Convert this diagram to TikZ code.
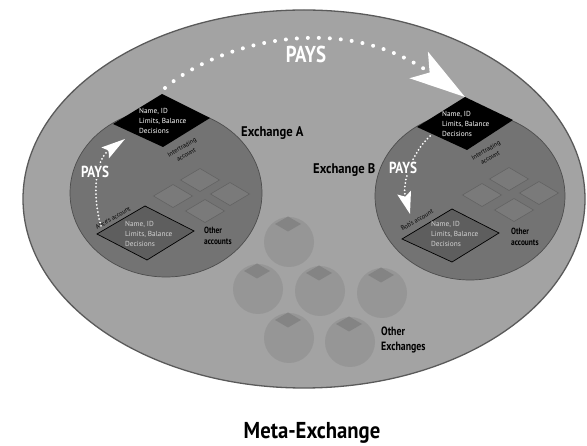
\documentclass[tikz,border=0pt]{standalone}
\usepackage{fontspec}
\setmainfont{PT Sans}
\newfontfamily\condf{PT Sans}[FakeStretch=0.82]
\newfontfamily\condg{PT Sans}[FakeStretch=0.9]
\usetikzlibrary{arrows.meta}
\definecolor{metabg}{HTML}{A3A3A3}
\definecolor{metaedge}{HTML}{5A5A5A}
\definecolor{exfill}{HTML}{737373}
\definecolor{exedge}{HTML}{4D4D4D}
\definecolor{accfill}{HTML}{7A7A7A}
\definecolor{accedge}{HTML}{636363}
\definecolor{ownfill}{HTML}{5E5E5E}
\definecolor{othfill}{HTML}{969696}
\definecolor{capfill}{HTML}{848484}
\definecolor{lighttext}{HTML}{D4D4D4}
\tikzset{
  bigpays/.style={text=white, font=\condf\bfseries\fontsize{23}{23}\selectfont, inner sep=1pt},
  smallpays/.style={text=white, font=\condf\bfseries\fontsize{16}{16}\selectfont, inner sep=1pt},
  exlabel/.style={font=\condg\bfseries\fontsize{14}{14}\selectfont, inner sep=0pt},
  smalllabel/.style={font=\condf\bfseries\fontsize{9}{11}\selectfont, align=left, inner sep=0pt},
  fieldtext/.style={font=\fontsize{7.3}{10}\selectfont, align=left, inner sep=0pt},
  edgetext/.style={font=\fontsize{6.3}{8.5}\selectfont, align=center, inner sep=0pt, rotate=30},
  bigdots/.style={white, line width=4pt, line cap=round, dash pattern=on 0pt off 11pt},
  tinydots/.style={white, line width=2pt, line cap=round, dash pattern=on 0pt off 3.6pt},
  othex/.style={fill=othfill},
  capbox/.style={fill=capfill},
  accbox/.style={fill=accfill, draw=accedge, line width=0.6pt},
}
\begin{document}
\begin{tikzpicture}[x=1pt,y=-1pt]
\useasboundingbox (0,0) rectangle (587,446);
\fill[white] (0,0) rectangle (587,446);

% meta exchange
\filldraw[fill=metabg, draw=metaedge, line width=1.3pt] (304,199) ellipse [x radius=281, y radius=189];

% other exchanges
\foreach \cx/\cy in {289/242, 258/289, 320/291, 382/293, 289/338, 350/342}{
  \fill[othex] (\cx,\cy) circle [radius=25];
  \fill[capbox] (\cx-1,\cy-25.5) -- (\cx+12,\cy-18) -- (\cx-1,\cy-10.5) -- (\cx-14,\cy-18) -- cycle;
}

% exchange circles
\filldraw[fill=exfill, draw=exedge, line width=0.7pt] (166,193) ellipse [x radius=96, y radius=84];
\filldraw[fill=exfill, draw=exedge, line width=0.7pt] (470,196) ellipse [x radius=95, y radius=84];

% other accounts (small diamonds)
\foreach \dx/\dy in {0/0, 309/-1}{
  \foreach \cx/\cy in {200/180, 173/196, 230/194, 205/211}{
    \filldraw[accbox] (\cx+\dx,\cy+\dy-11.5) -- (\cx+\dx+19.5,\cy+\dy) -- (\cx+\dx,\cy+\dy+11.5) -- (\cx+\dx-19.5,\cy+\dy) -- cycle;
  }
}

% own accounts
\coordinate (alT) at (145,206); \coordinate (alL) at (97,234);
\coordinate (alR) at (194,231); \coordinate (alB) at (147,260);
\filldraw[fill=ownfill, draw=black, line width=0.7pt] (alT) -- (alR) -- (alB) -- (alL) -- cycle;
\coordinate (boT) at (452,209); \coordinate (boL) at (402,239);
\coordinate (boR) at (499,233); \coordinate (boB) at (452,262);
\filldraw[fill=ownfill, draw=black, line width=0.7pt] (boT) -- (boR) -- (boB) -- (boL) -- cycle;

% intertrading accounts
\coordinate (iaT) at (162,94); \coordinate (iaL) at (113,124);
\coordinate (iaR) at (210,118); \coordinate (iaB) at (163,147);
\fill[black] (iaT) -- (iaR) -- (iaB) -- (iaL) -- cycle;
\coordinate (ibT) at (465,97); \coordinate (ibL) at (417,127);
\coordinate (ibR) at (513,120); \coordinate (ibB) at (467,150);
\fill[black] (ibT) -- (ibR) -- (ibB) -- (ibL) -- cycle;

% field texts
\node[fieldtext, text=white, anchor=west] (fa) at (139,121) {Name, ID\\Limits, Balance\\Decisions};
\node[fieldtext, text=white, anchor=west] (fb) at (442,124) {Name, ID\\Limits, Balance\\Decisions};
\node[fieldtext, text=lighttext, anchor=west] (fal) at (125,234) {Name, ID\\Limits, Balance\\Decisions};
\node[fieldtext, text=lighttext, anchor=west] (fbo) at (431,234) {Name, ID\\Limits, Balance\\Decisions};

% edge texts
\node[edgetext] (ita) at (184,151) {Intertrading\\account};
\node[edgetext] (itb) at (488,154) {Intertrading\\account};
\node[edgetext] (ala) at (113,218) {Alice's account};
\node[edgetext] (boa) at (417,220) {Bob's account};

% labels
\node[exlabel, anchor=west] (exA) at (241,133) {Exchange A};
\node[exlabel, anchor=west] (exB) at (313,170) {Exchange B};
\node[smalllabel, anchor=west] (oaA) at (204,236) {Other\\accounts};
\node[smalllabel, anchor=west] (oaB) at (511,237) {Other\\accounts};
\node[font=\condf\bfseries\fontsize{12}{15}\selectfont, align=left, inner sep=0pt, anchor=west] (oex) at (381,340) {Other\\Exchanges};
\node[font=\condg\bfseries\fontsize{23}{23}\selectfont, inner sep=0pt] (meta) at (312,433) {Meta-Exchange};

% payments
\coordinate (arcS) at (165,88);
\coordinate (arcM) at (305,38);
\draw[bigdots, -{Stealth[length=56pt, width=32pt, inset=13pt, fill=white]}]
  (arcS) .. controls (195,62) and (250,40) .. (arcM) .. controls (360,36) and (400,52) .. (ibT);
\coordinate (aS) at (101,226);
\coordinate (aE) at (125,139);
\draw[tinydots, -{Stealth[length=24pt, width=13pt, inset=4pt, fill=white]}]
  (aS) .. controls (92,195) and (95,160) .. (aE);
\coordinate (bS) at (430,136);
\coordinate (bE) at (410,214);
\draw[tinydots, -{Stealth[length=22pt, width=14pt, inset=4pt, fill=white]}]
  (bS) .. controls (410,155) and (402,185) .. (bE);

\node[bigpays, fill=metabg] (p1) at (306,54) {PAYS};
\node[smallpays, fill=exfill] (p2) at (95,172) {PAYS};
\node[smallpays, fill=exfill] (p3) at (403,168) {PAYS};
\end{tikzpicture}
\end{document}
